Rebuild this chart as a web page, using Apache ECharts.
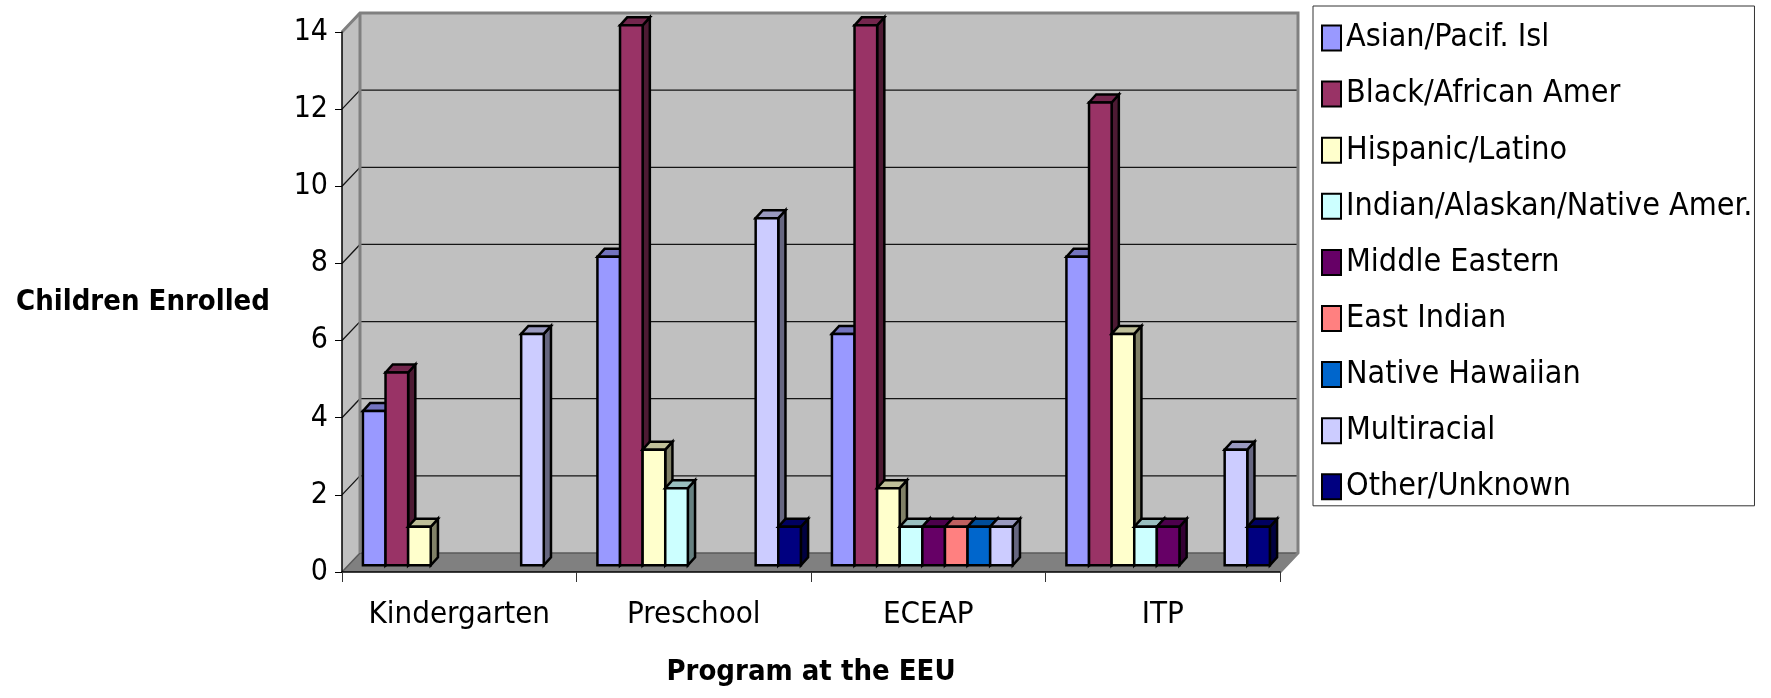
<!DOCTYPE html>
<html>
<head>
<meta charset="utf-8">
<title>Children Enrolled by Program at the EEU</title>
<script src="https://cdn.jsdelivr.net/npm/echarts@6/dist/echarts.min.js"></script>
<style>
  html, body { margin: 0; padding: 0; background: #ffffff; }
  #chart { width: 1771px; height: 698px; }
</style>
</head>
<body>
<div id="chart"></div>
<script>
// Programs along the category axis
const programs = ['Kindergarten', 'Preschool', 'ECEAP', 'ITP'];

// Ethnic groups (legend order) and their fill colours
const groups = [
  'Asian/Pacif. Isl',
  'Black/African Amer',
  'Hispanic/Latino',
  'Indian/Alaskan/Native Amer.',
  'Middle Eastern',
  'East Indian',
  'Native Hawaiian',
  'Multiracial',
  'Other/Unknown'
];
const groupColors = ['#9999FF', '#993366', '#FFFFCC', '#CCFFFF', '#660066', '#FF8080', '#0066CC', '#CCCCFF', '#000080'];

// Children enrolled per program (Kindergarten, Preschool, ECEAP, ITP)
const asianPacIsl         = [4, 8, 6, 8];
const blackAfricanAmer    = [5, 14, 14, 12];
const hispanicLatino      = [1, 3, 2, 6];
const indianAlaskanNative = [0, 2, 1, 1];
const middleEastern       = [0, 0, 1, 1];
const eastIndian          = [0, 0, 1, 0];
const nativeHawaiian      = [0, 0, 1, 0];
const multiracial         = [6, 9, 1, 3];
const otherUnknown        = [0, 1, 0, 1];

// Value axis ticks
const yTicks = [0, 2, 4, 6, 8, 10, 12, 14];

const groupValues = [
  asianPacIsl, blackAfricanAmer, hispanicLatino, indianAlaskanNative,
  middleEastern, eastIndian, nativeHawaiian, multiracial, otherUnknown
];

// Depth of the pseudo-3D box (pixels of receding offset)
const DX = 18, DY = 19;
const FONT = "'DejaVu Sans Condensed', 'DejaVu Sans', sans-serif";

function shade(hex, f) {
  const n = parseInt(hex.slice(1), 16);
  const r = Math.round(((n >> 16) & 255) * f);
  const g = Math.round(((n >> 8) & 255) * f);
  const b = Math.round((n & 255) * f);
  return 'rgb(' + r + ',' + g + ',' + b + ')';
}

// Back wall, side wall, floor and receding gridlines
function renderWalls(params, api) {
  const cs = params.coordSys;
  const x = cs.x, y = cs.y, w = cs.width, h = cs.height;
  const kids = [];
  kids.push({ type: 'polygon', shape: { points: [[x, y], [x + DX, y - DY], [x + DX, y + h - DY], [x, y + h]] },
              style: { fill: '#c0c0c0' } });
  kids.push({ type: 'rect', shape: { x: x + DX, y: y - DY, width: w, height: h }, style: { fill: '#c0c0c0' } });
  kids.push({ type: 'polygon', shape: { points: [[x, y + h], [x + DX, y + h - DY], [x + w + DX, y + h - DY], [x + w, y + h]] },
              style: { fill: '#808080' } });
  const top = yTicks[yTicks.length - 1];
  yTicks.forEach(function (v) {
    if (v === top) return;
    const py = api.coord([0, v])[1];
    kids.push({ type: 'polyline', shape: { points: [[x, py], [x + DX, py - DY], [x + w + DX, py - DY]] },
                style: { stroke: v === 0 ? '#5a5a5a' : '#151515', lineWidth: v === 0 ? 1.5 : 1.3, fill: null } });
  });
  // frame of the box
  kids.push({ type: 'polyline', shape: { points: [[x, y], [x + DX, y - DY], [x + w + DX, y - DY], [x + w + DX, y + h - DY], [x + w, y + h]] },
              style: { stroke: '#808080', lineWidth: 3, fill: null } });
  kids.push({ type: 'line', shape: { x1: x + DX, y1: y - DY, x2: x + DX, y2: y + h - DY },
              style: { stroke: '#808080', lineWidth: 3 } });
  return { type: 'group', children: kids };
}

// One pseudo-3D column: front face, top face and right side face
function makeBarRenderer(slot, color) {
  const topCol = shade(color, 0.75);
  const sideCol = shade(color, 0.5);
  return function (params, api) {
    const v = api.value(1);
    if (!v) return null;
    const cat = api.value(0);
    const base = api.coord([cat, 0]);
    const peak = api.coord([cat, v]);
    const catW = api.size([1, 0])[0];
    const slotW = catW * 0.0964;
    const ox = DX * 0.3, oy = DY * 0.35;
    const ddx = DX * 0.4, ddy = DY * 0.42;
    const x0 = base[0] - 4.5 * slotW + slot * slotW + ox;
    const x1 = x0 + slotW;
    const yb = base[1] - oy;
    const yt = peak[1] - oy;
    const stroke = { stroke: '#000', lineWidth: 2.5, lineJoin: 'miter' };
    return {
      type: 'group',
      children: [
        { type: 'polygon', shape: { points: [[x1, yt], [x1 + ddx, yt - ddy], [x1 + ddx, yb - ddy], [x1, yb]] },
          style: Object.assign({ fill: sideCol }, stroke) },
        { type: 'polygon', shape: { points: [[x0, yt], [x0 + ddx, yt - ddy], [x1 + ddx, yt - ddy], [x1, yt]] },
          style: Object.assign({ fill: topCol }, stroke) },
        { type: 'rect', shape: { x: x0, y: yt, width: slotW, height: yb - yt },
          style: Object.assign({ fill: color }, stroke) }
      ]
    };
  };
}

const series = [{
  name: 'walls',
  type: 'custom',
  silent: true,
  z: 1,
  renderItem: renderWalls,
  data: [[0, 0]],
  encode: { x: 0, y: 1 }
}];

groups.forEach(function (name, j) {
  series.push({
    name: name,
    type: 'custom',
    z: 3,
    itemStyle: { color: groupColors[j] },
    renderItem: makeBarRenderer(j, groupColors[j]),
    encode: { x: 0, y: 1 },
    data: groupValues[j].map(function (v, i) { return [i, v]; })
  });
});

const chart = echarts.init(document.getElementById('chart'), null, { renderer: 'canvas' });
chart.setOption({
  backgroundColor: '#ffffff',
  animation: false,
  grid: { left: 342, top: 32, right: 491, bottom: 126 },
  legend: {
    data: groups,
    orient: 'vertical',
    left: 1313,
    top: 6,
    padding: [15, 2, 2, 8],
    borderColor: '#333333',
    borderWidth: 1,
    icon: 'rect',
    itemWidth: 19,
    itemHeight: 25,
    itemGap: 22.1,
    itemStyle: { borderColor: '#000', borderWidth: 2 },
    textStyle: { fontFamily: FONT, fontSize: 32, lineHeight: 34, color: '#000' },
    selectedMode: false
  },
  xAxis: {
    type: 'category',
    data: programs,
    z: 10,
    name: 'Program at the EEU',
    nameLocation: 'middle',
    nameGap: 86,
    nameTextStyle: { fontFamily: FONT, fontWeight: 'bold', fontSize: 29, color: '#000' },
    axisLine: { show: true, lineStyle: { color: '#000', width: 1.5 } },
    axisTick: { show: true, interval: 0, length: 10, lineStyle: { color: '#333', width: 1 } },
    axisLabel: { interval: 0, fontFamily: FONT, fontSize: 31, color: '#000', margin: 27 },
    splitLine: { show: false }
  },
  yAxis: {
    type: 'value',
    min: 0,
    max: 14,
    interval: 2,
    z: 10,
    name: 'Children Enrolled',
    nameLocation: 'middle',
    nameRotate: 0,
    nameGap: 72,
    nameTextStyle: { fontFamily: FONT, fontWeight: 'bold', fontSize: 29, color: '#000' },
    axisLine: { show: true, lineStyle: { color: '#000', width: 1.5 } },
    axisTick: { show: true, length: 7, lineStyle: { color: '#000', width: 1 } },
    axisLabel: { fontFamily: FONT, fontSize: 30, color: '#000', margin: 14 },
    splitLine: { show: false }
  },
  series: series
});
</script>
</body>
</html>
